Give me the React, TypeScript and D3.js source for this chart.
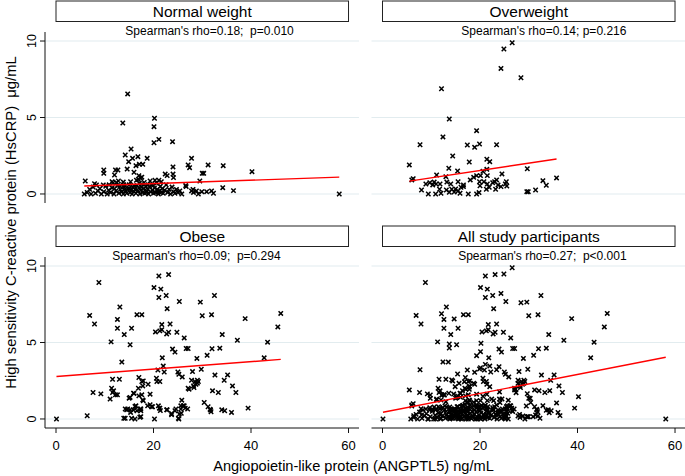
import { useEffect, useRef } from 'react';
import * as d3 from 'd3';

const panelTitles = ['Normal weight', 'Overweight', 'Obese', 'All study participants'];
const spearmanLabels = [
  "Spearman's rho=0.18;  p=0.010",
  "Spearman's rho=0.14; p=0.216",
  "Spearman's rho=0.09;  p=0.294",
  "Spearman's rho=0.27;  p<0.001",
];
const yTicks = [0, 5, 10];
const xTicks = [0, 20, 40, 60];

// ANGPTL5 (ng/mL), HsCRP (ug/mL)
const normalWeight: [number, number][] = [
  [14.7, 6.54], [13.7, 4.64], [20.2, 4.95], [20.1, 4.4], [20.1, 3.35], [21.1, 3.57], [23.9, 3.42],
  [15.4, 2.94], [14.2, 2.55], [14.9, 2.11], [15.7, 2.33], [16.8, 2.44], [18.7, 2.33], [16.4, 1.85],
  [17.1, 1.94], [17.8, 1.94], [9.8, 1.57], [9.8, 1.35], [12.2, 1.57], [12.7, 1.57], [12.0, 1.24],
  [14.6, 1.63], [16.0, 1.42], [17.0, 1.2], [17.3, 1.05], [16.9, 0.95], [17.6, 1.1], [20.3, 0.9],
  [21.1, 0.9], [22.4, 1.3], [22.8, 1.2], [24.0, 1.77], [24.0, 1.3], [24.1, 1.07], [27.1, 1.9],
  [27.4, 1.72], [27.8, 2.33], [31.2, 1.9], [34.3, 1.85], [30.0, 1.35], [30.3, 1.35], [40.2, 1.46],
  [29.5, 0.85], [34.2, 0.41], [36.4, 0.22], [26.6, 0.55], [26.7, 0.48], [27.8, 0.2], [28.2, 0.1],
  [29.2, 0], [29.9, 0.15], [30.9, 0.15], [31.9, 0.2], [32.3, 0.05], [58.1, 0], [6.0, 0.85], [5.8, 0],
  [7.9, 0.67], [8.3, 0.59], [9.7, 0.59], [11.5, 0.8], [12.4, 0.75], [13.9, 0.6], [12.8, 0.85],
  [11.7, 0.72], [13.8, 0.78], [28.1, 0.3], [28.8, 0.2],
  [6.4, 0.1], [6.9, 0.3], [7.2, 0], [7.6, 0.45], [8.1, 0.05], [8.6, 0.2], [9.0, 0.35], [9.3, 0],
  [9.8, 0.15], [10.2, 0.5], [10.5, 0], [10.8, 0.25], [11.2, 0.1], [11.5, 0.4], [11.9, 0], [12.3, 0.2],
  [12.6, 0.55], [12.9, 0.05], [13.2, 0.3], [13.5, 0.15], [13.8, 0], [14.0, 0.45], [14.3, 0.2],
  [14.5, 0.05], [14.8, 0.35], [15.0, 0.6], [15.2, 0.1], [15.4, 0.25], [15.6, 0], [15.8, 0.45],
  [16.0, 0.15], [16.2, 0.3], [16.4, 0.05], [16.6, 0.55], [16.8, 0.2], [17.0, 0.4], [17.2, 0],
  [17.4, 0.25], [17.6, 0.65], [17.8, 0.1], [18.0, 0.35], [18.2, 0.05], [18.4, 0.5], [18.6, 0.2],
  [18.8, 0.3], [19.0, 0], [19.2, 0.45], [19.4, 0.15], [19.6, 0.6], [19.8, 0.25], [20.0, 0.05],
  [20.2, 0.4], [20.4, 0.1], [20.6, 0.7], [20.8, 0.3], [21.0, 0], [21.2, 0.2], [21.4, 0.5], [21.6, 0.1],
  [21.8, 0.35], [22.0, 0.05], [22.3, 0.25], [22.6, 0.6], [22.9, 0.1], [23.2, 0.3], [23.5, 0],
  [23.8, 0.45], [24.1, 0.15], [24.4, 0.05], [24.7, 0.3], [25.0, 0.1], [25.4, 0.2], [25.8, 0],
  [15.3, 0.8], [16.5, 0.9], [18.1, 0.75], [19.3, 0.85], [21.6, 0.8], [18.9, 0.6], [17.1, 0.7],
  [15.1, 0.35], [16.1, 0.5], [17.5, 0.45], [18.5, 0.1], [19.9, 0.55], [20.9, 0.15], [14.1, 0.3],
  [13.1, 0.5], [12.0, 0.35], [10.9, 0.6],
];

const overweight: [number, number][] = [
  [26.6, 9.89], [24.9, 9.48], [24.3, 8.21], [28.4, 7.6], [12.1, 6.88], [13.7, 4.9], [19.3, 4.14],
  [12.4, 3.73], [7.7, 3.22], [17.4, 3.2], [18.9, 3.05], [19.9, 3.27], [23.4, 3.22], [14.4, 2.48],
  [21.4, 2.27], [22.0, 2.11], [17.8, 2.09], [5.5, 1.9], [13.6, 1.68], [15.4, 1.5], [29.7, 1.65],
  [20.6, 1.48], [21.4, 1.61], [19.3, 1.2], [18.7, 1.09], [18.0, 0.92], [20.1, 1.2], [21.5, 1.2],
  [24.5, 1.31], [11.1, 1.24], [13.0, 1.13], [6.3, 1.0], [6.0, 0.92], [8.9, 0.65], [9.7, 0.74],
  [10.6, 0.78], [11.0, 0.65], [10.3, 0.59], [11.8, 0.65], [13.2, 0.78], [14.0, 0.65], [15.5, 0.8],
  [16.6, 0.59], [8.0, 0.26], [9.4, 0], [10.9, 0], [11.7, 0.31], [12.0, 0.05], [13.1, 0.26],
  [13.7, 0.11], [14.2, 0.31], [14.7, 0.13], [15.0, 0.33], [15.5, 0.2], [16.1, 0.44], [16.6, 0.48],
  [15.9, 0.05], [17.6, 0], [19.3, 0], [19.8, 0.09], [20.0, 0.54], [19.9, 0.8], [20.8, 0.8],
  [21.5, 0.65], [21.9, 0.44], [22.6, 0.74], [23.0, 0.8], [23.4, 0.92], [23.7, 0.59], [23.2, 0.31],
  [21.3, 0.31], [24.3, 0.48], [25.4, 0.8], [25.5, 0.52], [25.2, 0.65], [29.6, 0.15], [29.9, 0.15],
  [31.4, 0.26], [32.9, 0.87], [33.6, 0.57], [35.7, 1.05],
];

const obese: [number, number][] = [
  [8.8, 8.92], [6.9, 6.77], [7.9, 6.21], [7.6, 1.73], [9.2, 1.64], [6.4, 0.21], [0.1, 0],
  [13.1, 7.32], [12.6, 6.51], [12.6, 5.93], [11.3, 5.04], [14.0, 5.52], [15.5, 5.93], [15.2, 4.85],
  [13.5, 3.72], [16.6, 6.82], [17.6, 6.82], [11.6, 2.6], [13.0, 2.6], [11.4, 2.01], [11.8, 1.84],
  [12.2, 1.58], [11.1, 1.3], [11.6, 1.73], [12.6, 1.58], [15.2, 1.41], [15.9, 1.69], [17.0, 2.71],
  [16.9, 2.01], [17.9, 2.49], [17.8, 1.25], [17.6, 1.58], [18.9, 2.27], [19.3, 1.62], [18.8, 0.86],
  [19.8, 0.8], [17.3, 0.65], [16.2, 0.82], [16.6, 0.54], [15.2, 0.6], [14.5, 0.6], [14.2, 0.05],
  [16.2, 0], [17.4, 0.15], [17.4, 0.54], [20.2, 0], [20.1, 8.59], [21.1, 9.35], [21.5, 8.49],
  [23.1, 9.44], [22.6, 8.07], [21.1, 7.94], [22.8, 7.21], [25.3, 7.68], [21.7, 6.17], [23.4, 6.21],
  [20.4, 5.69], [21.3, 5.76], [21.7, 5.84], [22.7, 5.56], [23.1, 5.67], [24.8, 5.67], [26.3, 5.3],
  [23.9, 4.57], [24.4, 4.37], [26.7, 4.61], [27.1, 4.61], [21.8, 4.0], [22.0, 3.46], [20.9, 3.2],
  [22.2, 3.07], [20.6, 2.66], [20.7, 2.45], [21.3, 2.45], [17.6, 2.45], [17.8, 2.16], [25.0, 3.07],
  [25.2, 2.92], [25.9, 2.75], [25.8, 1.23], [25.6, 0.86], [26.3, 0.86], [25.6, 0.65], [25.7, 0.37],
  [25.2, 0], [24.6, 0.65], [23.7, 0.36], [22.7, 0.6], [21.3, 0.7], [21.4, 0.55], [16.0, 1.67],
  [17.0, 1.51], [15.0, 1.36], [17.9, 1.19], [19.3, 0.93], [19.6, 0.8], [21.0, 0.86], [21.2, 0.71],
  [14.2, 0.65], [14.7, 0.65], [15.3, 0.43], [15.9, 0.58], [16.4, 0.86], [17.4, 0.65], [15.5, 0.05],
  [17.2, 0.11], [13.9, 0.05], [22.8, 0.6], [23.7, 0.28], [24.4, 0.54], [25.1, 0.05], [25.3, 0.32],
  [26.1, 0.86], [26.5, 0.71], [27.1, 2.01], [27.8, 2.53], [28.5, 2.45], [28.2, 2.16], [29.2, 2.45],
  [27.0, 0.65], [27.3, 1.95], [28.9, 3.96], [28.0, 3.1], [29.8, 3.25], [29.6, 7.64], [30.0, 6.75],
  [30.4, 1.08], [31.2, 0.8], [31.7, 0.58], [31.8, 0.47], [31.0, 4.16], [32.0, 4.59], [31.9, 6.82],
  [32.5, 8.07], [32.1, 1.84], [32.6, 2.87], [33.3, 1.73], [33.6, 4.63], [34.1, 5.52], [34.0, 0.6],
  [34.6, 0.54], [34.5, 2.53], [35.2, 2.88], [36.2, 2.16], [36.9, 1.73], [36.0, 0.43], [37.2, 5.15],
  [39.4, 0.71], [38.8, 6.56], [42.7, 4.0], [43.4, 5.02], [45.5, 6.02], [46.1, 6.9], [29.0, 2.53],
  [29.0, 2.34], [28.7, 2.27], [28.3, 2.06], [31.6, 0.63],
];

const allParticipants: [number, number][] = [...normalWeight, ...overweight, ...obese];
const panelData = [normalWeight, overweight, obese, allParticipants];

// linear fit per panel: intercept, slope
const fitIntercepts = [0.46, 0.575, 2.77, 0.43];
const fitSlopes = [0.011, 0.048, 0.0244, 0.062];

// where the Spearman note sits (x in data units)
const spearmanX = [31.5, 33.1, 28.8, 32.8];

const width = 685;
const height = 476;
const plotW = 314;
const plotH = 171;
const panels = [
  { left: 45, top: 32 },
  { left: 371.5, top: 32 },
  { left: 45, top: 257 },
  { left: 371.5, top: 257 },
];
const font = "Arial, 'Liberation Sans', sans-serif";

const Chart = () => {
  const ref = useRef<SVGSVGElement>(null);

  useEffect(() => {
    const svg = d3.select(ref.current);
    svg.selectAll('*').remove();

    panels.forEach((p, i) => {
      const x = d3
        .scaleLinear()
        .domain([-11 / 4.875, 62.15])
        .range([p.left, p.left + plotW]);
      const y = d3
        .scaleLinear()
        .domain([-0.59, 10.59])
        .range([p.top + plotH, p.top]);
      const g = svg.append('g');

      // grid
      g.selectAll('line.grid')
        .data(yTicks)
        .join('line')
        .attr('x1', p.left)
        .attr('x2', p.left + plotW)
        .attr('y1', (d) => y(d))
        .attr('y2', (d) => y(d))
        .attr('stroke', '#e2ecef')
        .attr('stroke-width', 1.2);

      // header box
      g.append('rect')
        .attr('x', x(0))
        .attr('y', p.top - 31)
        .attr('width', x(60) - x(0))
        .attr('height', 20.5)
        .attr('fill', 'white')
        .attr('stroke', '#222')
        .attr('stroke-width', 1);
      g.append('text')
        .attr('x', (x(0) + x(60)) / 2)
        .attr('y', p.top - 15.5)
        .attr('text-anchor', 'middle')
        .attr('font-size', 15.5)
        .attr('font-family', font)
        .text(panelTitles[i]);

      g.append('text')
        .attr('x', x(spearmanX[i]))
        .attr('y', p.top + 3)
        .attr('text-anchor', 'middle')
        .attr('font-size', 12)
        .attr('font-family', font)
        .style('white-space', 'pre')
        .text(spearmanLabels[i]);

      // y axis on left column
      if (i % 2 === 0) {
        const ya = g.append('g').attr('transform', `translate(${p.left},0)`);
        ya.append('line')
          .attr('y1', p.top)
          .attr('y2', p.top + plotH)
          .attr('stroke', '#111');
        ya.selectAll('line.tick')
          .data(yTicks)
          .join('line')
          .attr('x1', -5)
          .attr('x2', 0)
          .attr('y1', (d) => y(d))
          .attr('y2', (d) => y(d))
          .attr('stroke', '#111');
        ya.selectAll('text')
          .data(yTicks)
          .join('text')
          .attr('transform', (d) => `translate(-9,${y(d)}) rotate(-90)`)
          .attr('text-anchor', 'middle')
          .attr('font-size', 12.5)
          .attr('font-family', font)
          .text((d) => d);
      }

      // x axis on bottom row
      if (i >= 2) {
        const xa = g.append('g').attr('transform', `translate(0,${p.top + plotH})`);
        xa.append('line')
          .attr('x1', p.left)
          .attr('x2', p.left + plotW)
          .attr('stroke', '#111');
        xa.selectAll('line.tick')
          .data(xTicks)
          .join('line')
          .attr('x1', (d) => x(d))
          .attr('x2', (d) => x(d))
          .attr('y1', 0)
          .attr('y2', 5)
          .attr('stroke', '#111');
        xa.selectAll('text')
          .data(xTicks)
          .join('text')
          .attr('x', (d) => x(d))
          .attr('y', 22)
          .attr('text-anchor', 'middle')
          .attr('font-size', 13)
          .attr('font-family', font)
          .text((d) => d);
      }

      // points
      g.selectAll('path.pt')
        .data(panelData[i])
        .join('path')
        .attr('transform', (d) => `translate(${x(d[0])},${y(d[1])})`)
        .attr('d', 'M-2.2,-2.2L2.2,2.2M-2.2,2.2L2.2,-2.2')
        .attr('stroke', '#000')
        .attr('stroke-width', 1.5)
        .attr('fill', 'none');

      // fitted line
      const xr = d3.extent(panelData[i], (d) => d[0]) as [number, number];
      const fit = xr.map((v) => [v, fitIntercepts[i] + fitSlopes[i] * v] as [number, number]);
      g.append('path')
        .attr(
          'd',
          d3
            .line<[number, number]>()
            .x((d) => x(d[0]))
            .y((d) => y(d[1]))(fit)
        )
        .attr('stroke', '#ff0000')
        .attr('stroke-width', 1.4)
        .attr('fill', 'none');
    });

    svg.append('text')
      .attr('x', 353.5)
      .attr('y', 471)
      .attr('text-anchor', 'middle')
      .attr('font-size', 14.6)
      .attr('font-family', font)
      .text('Angiopoietin-like protein (ANGPTL5) ng/mL');

    svg.append('text')
      .attr('transform', 'translate(15.5,222.5) rotate(-90)')
      .attr('text-anchor', 'middle')
      .attr('font-size', 14.8)
      .attr('font-family', font)
      .style('white-space', 'pre')
      .text('High sensitivity C-reactive protein (HsCRP)  μg/mL');
  }, [ref]);

  return (
    <svg
      ref={ref}
      width={width}
      height={height}
      style={{ position: 'absolute', left: 0, top: 0, background: 'white' }}
    />
  );
};

export default function App() {
  return (
    <div>
      <Chart />
    </div>
  );
}
